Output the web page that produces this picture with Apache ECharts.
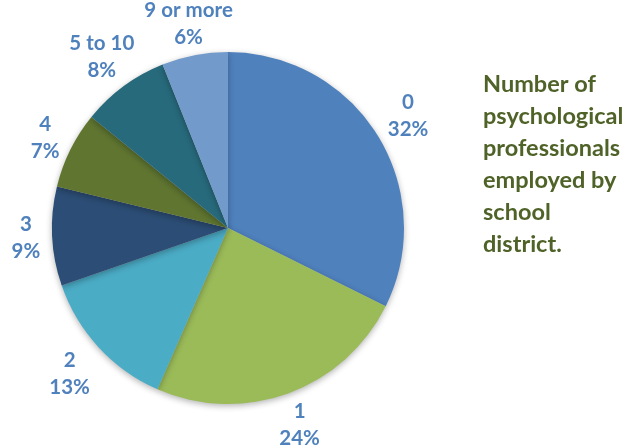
<!DOCTYPE html>
<html>
	<head>
		<meta charset="UTF-8">
		<title>Psychological professionals pie</title>
		<script src="https://cdn.jsdelivr.net/npm/echarts@6/dist/echarts.min.js"></script>
		<style>
			body { margin: 0; background: #fff; }
		</style>
	</head>
	<body>
		<div id="main" style="width:628px;height:448px"></div>
		<script>
			// chart data
			var categories = ['0', '1', '2', '3', '4', '5 to 10', '9 or more'];
			var shares = [32, 24, 13, 9, 7, 8, 6];
			var sliceColors = ['#4F81BD', '#9BBB59', '#4BACC6', '#2C4D75', '#5F7530', '#276A7C', '#729ACA'];

			// pie geometry
			var CX = 228, CY = 228, R = 176;
			var LABEL_GAP = 12;

			var total = shares.reduce(function(a, b) { return a + b; }, 0);

			// mid angle of slice i, clockwise from 12 o'clock, in radians
			function midAngle(i) {
				var before = 0;
				for (var j = 0; j < i; j++) before += shares[j];
				return (before + shares[i] / 2) / total * 2 * Math.PI;
			}

			var myChart = echarts.init(document.getElementById('main'));

			var pieData = categories.map(function(name, i) {
				return { name: name, value: shares[i], itemStyle: { color: sliceColors[i] } };
			});

			myChart.setOption({
				animation: false,
				title: {
					text: 'Number of\npsychological\nprofessionals\nemployed by\nschool\ndistrict.',
					left: 478,
					top: 63,
					textStyle: {
						fontFamily: 'Lato',
						fontWeight: 'bold',
						fontSize: 23.5,
						lineHeight: 32,
						color: '#4F6228'
					}
				},
				series: [{
					type: 'pie',
					center: [CX, CY],
					radius: R,
					startAngle: 90,
					clockwise: true,
					avoidLabelOverlap: false,
					itemStyle: {
						shadowBlur: 6,
						shadowOffsetY: 2,
						shadowColor: 'rgba(0,0,0,0.3)'
					},
					label: {
						show: true,
						position: 'outside',
						formatter: '{b}\n{c}%',
						fontFamily: 'Lato',
						fontWeight: 'bold',
						fontSize: 20.5,
						lineHeight: 27,
						color: '#4F81BD'
					},
					labelLine: { show: false },
					// label box sits just outside the rim: the box edge touches the point
					// on the slice's mid angle, like Excel's "outside end"
					labelLayout: function(p) {
						var a = midAngle(p.dataIndex);
						var dx = Math.sin(a), dy = -Math.cos(a);
						var hw = p.labelRect.width / 2;
						var hh = p.labelRect.height / 2 - 7;
						var t = Math.min(
							Math.abs(dx) > 1e-6 ? hw / Math.abs(dx) : Infinity,
							Math.abs(dy) > 1e-6 ? hh / Math.abs(dy) : Infinity
						);
						var d = R + LABEL_GAP + t;
						return {
							x: CX + dx * d,
							y: CY + dy * d,
							align: 'center',
							verticalAlign: 'middle'
						};
					},
					data: pieData
				}]
			});
		</script>
	</body>
</html>
